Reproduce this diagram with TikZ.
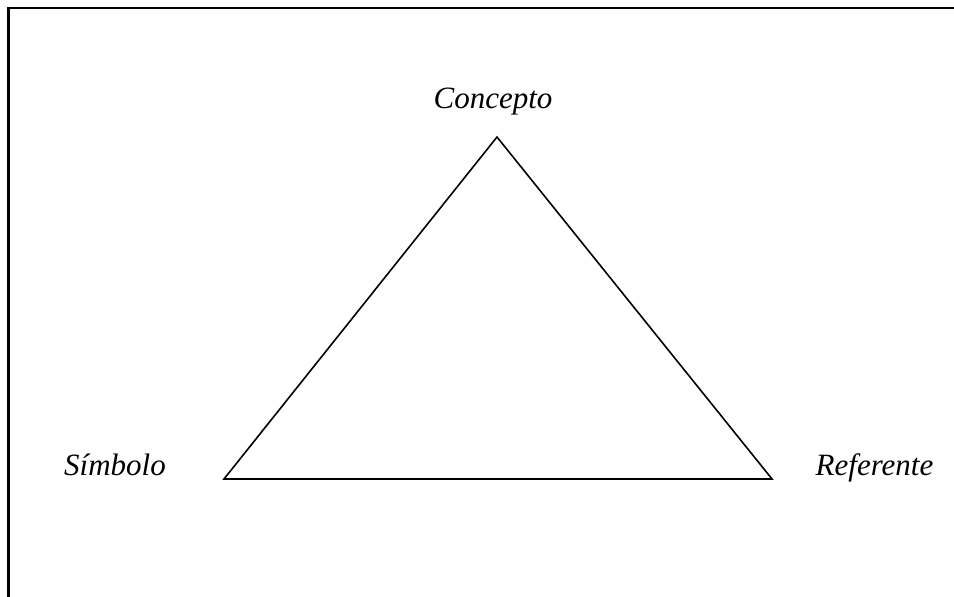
\documentclass[tikz,border=0pt]{standalone}
\usepackage{fontspec}
\setmainfont{Liberation Serif}
\begin{document}
\begin{tikzpicture}[x=1pt,y=-1pt,
  lbl/.style={font=\fontsize{31}{36}\selectfont\itshape, inner sep=0pt, anchor=base},
  frame/.style={line width=2.2pt},
  tri/.style={line width=1.6pt, line join=miter}]
\useasboundingbox (0,0) rectangle (954,597);
\draw[frame] (954,8) -- (8.5,8) -- (8.5,597);
\coordinate (top) at (497,137);
\coordinate (bl) at (224,479);
\coordinate (br) at (772,479);
\draw[tri] (top) -- (bl) -- (br) -- cycle;
\node[lbl] (concepto) at (493,108) {Concepto};
\node[lbl] (simbolo) at (115,475) {Símbolo};
\node[lbl] (referente) at (874.5,475) {Referente};
\end{tikzpicture}
\end{document}
